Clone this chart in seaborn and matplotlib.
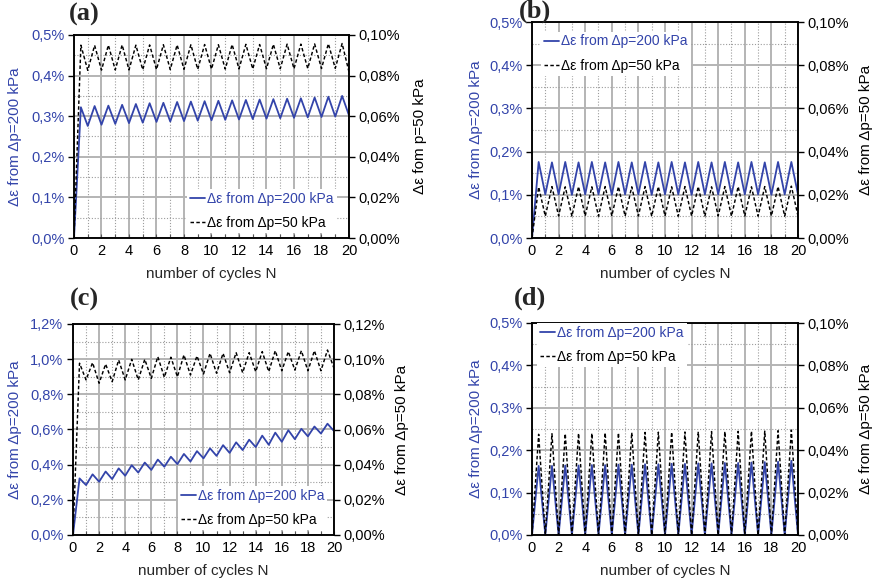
import numpy as np
import matplotlib
matplotlib.use("Agg")
import matplotlib.pyplot as plt
from matplotlib.ticker import MultipleLocator, FuncFormatter
import seaborn as sns

# ---------------------------------------------------------------------------
# Data: strain amplitude (in %) read at every half cycle N = 0, 0.5, 1, ..., 20.
# Each series starts at 0, peaks at half cycles and falls back at full cycles.
# ---------------------------------------------------------------------------
cycles = np.arange(0, 20.5, 0.5)

# (a)
a_blue_peaks = [0.322, 0.325, 0.326, 0.328, 0.330, 0.332, 0.333, 0.335, 0.336, 0.337,
                0.338, 0.339, 0.340, 0.341, 0.342, 0.343, 0.344, 0.346, 0.348, 0.350]
a_blue_troughs = [0.276, 0.279, 0.281, 0.283, 0.284, 0.286, 0.287, 0.288, 0.289, 0.290,
                  0.291, 0.292, 0.293, 0.294, 0.295, 0.296, 0.297, 0.298, 0.299, 0.302]
a_black_peaks = [0.0950, 0.0949, 0.0950, 0.0951, 0.0950, 0.0951, 0.0952, 0.0951, 0.0952, 0.0953,
                 0.0952, 0.0953, 0.0954, 0.0953, 0.0954, 0.0955, 0.0955, 0.0956, 0.0957, 0.0958]
a_black_troughs = [0.0826, 0.0827, 0.0828, 0.0828, 0.0829, 0.0830, 0.0830, 0.0831, 0.0831, 0.0832,
                   0.0832, 0.0833, 0.0833, 0.0834, 0.0834, 0.0834, 0.0835, 0.0835, 0.0836, 0.0818]

# (b)
b_blue_peaks = [0.176, 0.175, 0.176, 0.175, 0.176, 0.175, 0.176, 0.175, 0.176, 0.175,
                0.176, 0.175, 0.176, 0.175, 0.176, 0.175, 0.176, 0.175, 0.176, 0.176]
b_blue_troughs = [0.101, 0.101, 0.100, 0.101, 0.101, 0.100, 0.101, 0.101, 0.100, 0.101,
                  0.101, 0.100, 0.101, 0.101, 0.100, 0.101, 0.101, 0.100, 0.101, 0.101]
b_black_peaks = [0.0236, 0.0238, 0.0237, 0.0238, 0.0237, 0.0238, 0.0238, 0.0237, 0.0238, 0.0238,
                 0.0237, 0.0238, 0.0238, 0.0237, 0.0238, 0.0238, 0.0237, 0.0238, 0.0238, 0.0240]
b_black_troughs = [0.0101, 0.0102, 0.0101, 0.0102, 0.0101, 0.0102, 0.0101, 0.0102, 0.0101, 0.0102,
                   0.0101, 0.0102, 0.0101, 0.0102, 0.0101, 0.0102, 0.0101, 0.0102, 0.0101, 0.0102]

# (c)
c_blue_peaks = [0.322, 0.345, 0.361, 0.379, 0.397, 0.412, 0.429, 0.445, 0.461, 0.477,
                0.493, 0.511, 0.527, 0.542, 0.565, 0.582, 0.596, 0.604, 0.617, 0.633]
c_blue_troughs = [0.284, 0.303, 0.318, 0.337, 0.355, 0.370, 0.388, 0.403, 0.418, 0.436,
                  0.450, 0.467, 0.483, 0.500, 0.513, 0.530, 0.545, 0.561, 0.577, 0.591]
c_black_peaks = [0.0977, 0.0980, 0.0972, 0.0995, 0.0999, 0.0999, 0.1014, 0.1011, 0.1024, 0.1018,
                 0.1033, 0.1033, 0.1037, 0.1037, 0.1043, 0.1048, 0.1043, 0.1048, 0.1048, 0.1052]
c_black_troughs = [0.0882, 0.0863, 0.0872, 0.0882, 0.0882, 0.0891, 0.0897, 0.0900, 0.0910, 0.0916,
                   0.0920, 0.0923, 0.0923, 0.0929, 0.0929, 0.0934, 0.0938, 0.0934, 0.0934, 0.0948]

# (d)
d_blue_peaks = [0.163, 0.163, 0.164, 0.164, 0.165, 0.165, 0.166, 0.166, 0.167, 0.167,
                0.168, 0.168, 0.169, 0.169, 0.170, 0.170, 0.171, 0.172, 0.173, 0.175]
d_blue_troughs = [0.0] * 20
d_black_peaks = [0.0475, 0.0478, 0.0478, 0.0480, 0.0480, 0.0482, 0.0482, 0.0483, 0.0484, 0.0485,
                 0.0485, 0.0486, 0.0487, 0.0488, 0.0488, 0.0489, 0.0490, 0.0490, 0.0492, 0.0495]
d_black_troughs = [0.0] * 20

x_ticks = list(range(0, 21, 2))
blue_label = "Δε from Δp=200 kPa"
black_label = "Δε from Δp=50 kPa"
x_label = "number of cycles N"


def saw(peaks, troughs):
    """Interleave the half-cycle peaks and full-cycle troughs after the zero start."""
    vals = [0.0]
    for p, t in zip(peaks, troughs):
        vals += [p, t]
    return np.array(vals)


# ---------------------------------------------------------------------------
# Styling
# ---------------------------------------------------------------------------
sns.set_theme(style="white")
plt.rcParams["font.family"] = ["Liberation Sans", "DejaVu Sans"]
plt.rcParams["axes.edgecolor"] = "black"
plt.rcParams["axes.linewidth"] = 1.1

BLUE = "#3344aa"
W, H = 878, 587
fig = plt.figure(figsize=(W / 100, H / 100), dpi=100)

left_fmt = FuncFormatter(lambda v, _: f"{v:.1f}%".replace(".", ","))
right_fmt = FuncFormatter(lambda v, _: f"{v:.2f}%".replace(".", ","))

panels = [
    dict(tag="(a)", box=(74, 349, 35, 238), blue=saw(a_blue_peaks, a_blue_troughs),
         black=saw(a_black_peaks, a_black_troughs), ltop=0.5, lstep=0.1, rtop=0.10,
         rlabel="Δε fom p=50 kPa", loc="lower right", anchor=(0.955, 0.025),
         tag_xy=(84, 14), llab_x=15, rlab_x=420),
    dict(tag="(b)", box=(532, 798, 22, 238), blue=saw(b_blue_peaks, b_blue_troughs),
         black=saw(b_black_peaks, b_black_troughs), ltop=0.5, lstep=0.1, rtop=0.10,
         rlabel=black_label, loc="upper left", anchor=(0.035, 0.955),
         tag_xy=(535, 11), llab_x=476, rlab_x=866),
    dict(tag="(c)", box=(73, 334, 324, 535), blue=saw(c_blue_peaks, c_blue_troughs),
         black=saw(c_black_peaks, c_black_troughs), ltop=1.2, lstep=0.2, rtop=0.12,
         rlabel=black_label, loc="lower right", anchor=(0.975, 0.025),
         tag_xy=(84, 299), llab_x=15, rlab_x=402),
    dict(tag="(d)", box=(532, 798, 323, 535), blue=saw(d_blue_peaks, d_blue_troughs),
         black=saw(d_black_peaks, d_black_troughs), ltop=0.5, lstep=0.1, rtop=0.10,
         rlabel=black_label, loc="upper left", anchor=(0.02, 1.0),
         tag_xy=(530, 298), llab_x=476, rlab_x=866),
]

for p in panels:
    l, r, t, b = p["box"]
    ax = fig.add_axes([l / W, 1 - b / H, (r - l) / W, (b - t) / H])
    ax.set_axisbelow(True)

    sns.lineplot(x=cycles, y=p["blue"], ax=ax, color=BLUE, lw=1.3, label=blue_label,
                 legend=False)
    ax.set_xlim(0, 20)
    ax.set_ylim(0, p["ltop"])
    ax.set_xticks(x_ticks)
    ax.xaxis.set_minor_locator(MultipleLocator(1))
    ax.yaxis.set_major_locator(MultipleLocator(p["lstep"]))
    ax.yaxis.set_minor_locator(MultipleLocator(p["lstep"] / 2))
    ax.yaxis.set_major_formatter(left_fmt)

    ax.grid(which="major", color="#b4b4b4", lw=1.4, ls="-")
    ax.grid(which="minor", color="#9c9c9c", lw=0.8, ls=(0, (1, 1.6)))

    ax.tick_params(axis="x", which="both", bottom=True, direction="in", length=3,
                   width=0.8, color="#555555", labelsize=10.5, pad=4, labelcolor="black")
    ax.tick_params(axis="y", which="major", left=True, direction="out", length=4,
                   width=1, color="black", labelsize=10.5, labelcolor=BLUE, pad=3)
    ax.tick_params(axis="y", which="minor", left=False, length=0)

    ax.set_xlabel(x_label, fontsize=11, va="center")
    ax.xaxis.set_label_coords(0.5, -36 / (b - t))
    ax.set_ylabel(blue_label, fontsize=11, color=BLUE, va="center")
    ax.yaxis.set_label_coords((p["llab_x"] - l) / (r - l), 0.5)

    ax2 = ax.twinx()
    sns.lineplot(x=cycles, y=p["black"], ax=ax2, color="black", lw=1.05,
                 linestyle=(0, (2.4, 1.6)), label=black_label, legend=False)
    ax2.set_ylim(0, p["rtop"])
    ax2.yaxis.set_major_locator(MultipleLocator(0.02))
    ax2.yaxis.set_major_formatter(right_fmt)
    ax2.grid(False)
    ax2.tick_params(axis="y", which="major", right=True, left=False, direction="out",
                    length=4, width=1, color="black", labelsize=10.5, labelcolor="black",
                    pad=3)
    ax2.set_ylabel(p["rlabel"], fontsize=11, color="black", va="center", rotation=90)
    ax2.yaxis.set_label_coords((p["rlab_x"] - l) / (r - l), 0.5)
    for s in ax2.spines.values():
        s.set_color("black")

    handles = ax.get_lines()[:1] + ax2.get_lines()[:1]
    leg = ax2.legend(handles, [blue_label, black_label], loc=p["loc"],
                     bbox_to_anchor=p["anchor"], fontsize=10, frameon=True,
                     facecolor="white", edgecolor="none", framealpha=1, fancybox=False,
                     handlelength=1.1, handletextpad=0.15, borderpad=0.2,
                     labelspacing=0.75, borderaxespad=0)
    leg.get_texts()[0].set_color(BLUE)
    leg.get_texts()[1].set_color("black")

    fig.text(p["tag_xy"][0] / W, 1 - p["tag_xy"][1] / H, p["tag"],
             family=["Liberation Serif", "DejaVu Serif"], fontweight="bold",
             fontsize=19, ha="center", va="center")

fig.savefig("out.png", dpi=100)
